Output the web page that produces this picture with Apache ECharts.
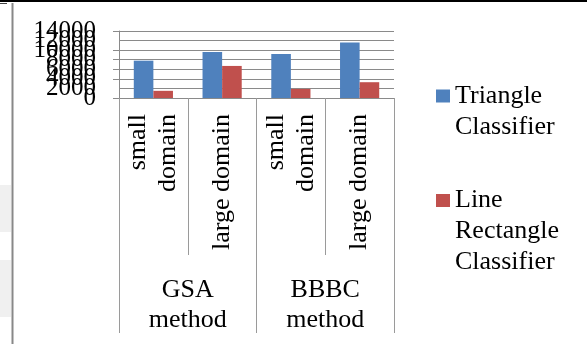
<!DOCTYPE html>
<html>
<head>
<meta charset="utf-8">
<script src="https://cdn.jsdelivr.net/npm/echarts@6/dist/echarts.min.js"></script>
<style>html,body{margin:0;padding:0;background:#fff;}#c{width:587px;height:344px;}</style>
</head>
<body>
<div id="c"></div>
<script>
const categories = ['small\ndomain', 'large domain', 'small\ndomain', 'large domain'];
const groups = ['GSA\nmethod', 'BBBC\nmethod'];
const seriesNames = ['Triangle Classifier', 'Line Rectangle Classifier'];
const triangleValues = [7800, 9600, 9200, 11600];
const lineRectValues = [1500, 6700, 1900, 3300];
const yTicks = { min: 0, max: 14000, interval: 2000 };

const FONT = 'Liberation Serif';
const chart = echarts.init(document.getElementById('c'), null, { renderer: 'canvas' });
function legendText(n) {
  const words = n.split(' ');
  const blank = '{s' + words.length + '| }';
  return blank + '\n' + words.map(w => '{a|' + w + '}').join('\n');
}
const richStyle = {
  a: { fontFamily: FONT, fontSize: 26, lineHeight: 31, color: '#000' },
  s2: { fontSize: 10, lineHeight: 31 },
  s3: { fontSize: 10, lineHeight: 62 }
};
const legendCommon = {
  orient: 'vertical', left: 436, padding: 0, itemWidth: 14, itemHeight: 13,
  icon: 'rect', selectedMode: false, formatter: legendText,
  textStyle: { fontFamily: FONT, fontSize: 26, color: '#000', rich: richStyle }
};
const yLabelBase = { margin: 23, fontFamily: FONT, fontSize: 25, color: '#000', hideOverlap: false };
const yEdge = [yTicks.min + yTicks.interval, yTicks.max - yTicks.interval];
chart.setOption({
  animation: false,
  backgroundColor: '#fff',
  textStyle: { fontFamily: FONT },
  grid: { left: 119, right: 193, top: 31, bottom: 246, containLabel: false },
  legend: [
    Object.assign({}, legendCommon, { top: 60, data: [seriesNames[0]] }),
    Object.assign({}, legendCommon, { top: 149, data: [seriesNames[1]] })
  ],
  xAxis: [
    {
      type: 'category', data: categories, position: 'bottom',
      axisLine: { show: true, lineStyle: { color: '#8a8a8a', width: 1 } },
      axisTick: { show: true, length: 157, lineStyle: { color: '#9a9a9a', width: 1 } },
      axisLabel: { interval: 0, rotate: 90, margin: 16, fontFamily: FONT, fontSize: 26, lineHeight: 30, color: '#000' }
    },
    {
      type: 'category', data: groups, position: 'bottom',
      axisLine: { show: false },
      axisTick: { show: true, length: 235, lineStyle: { color: '#9a9a9a', width: 1 } },
      axisLabel: { interval: 0, margin: 177, fontFamily: FONT, fontSize: 26, lineHeight: 30, color: '#000' }
    }
  ],
  yAxis: [
    {
      type: 'value', position: 'left', min: yTicks.min, max: yTicks.max, interval: yTicks.interval,
      axisLine: { show: true, lineStyle: { color: '#8a8a8a', width: 1 } },
      axisTick: { show: true, length: 6, lineStyle: { color: '#8a8a8a', width: 1 } },
      splitLine: { show: true, lineStyle: { color: '#8a8a8a', width: 1 } },
      axisLabel: Object.assign({}, yLabelBase, { showMinLabel: true, showMaxLabel: true, formatter: v => String(v) })
    },
    {
      type: 'value', position: 'left', min: yTicks.min, max: yTicks.max, interval: yTicks.interval,
      axisLine: { show: false }, axisTick: { show: false }, splitLine: { show: false },
      axisLabel: Object.assign({}, yLabelBase, {
        showMinLabel: false, showMaxLabel: false,
        formatter: v => (yEdge.indexOf(v) >= 0 ? String(v) : '')
      })
    }
  ],
  series: [
    { name: seriesNames[0], type: 'bar', data: triangleValues, itemStyle: { color: '#4F81BD' }, barGap: '0%', barCategoryGap: '43%' },
    { name: seriesNames[1], type: 'bar', data: lineRectValues, itemStyle: { color: '#C0504D' }, barGap: '0%', barCategoryGap: '43%' }
  ],
  graphic: [
    { type: 'rect', shape: { x: 0, y: 185, width: 11, height: 47 }, style: { fill: '#f0f0f0' }, silent: true },
    { type: 'rect', shape: { x: 0, y: 260, width: 11, height: 57 }, style: { fill: '#f0f0f0' }, silent: true },
    { type: 'line', shape: { x1: 0, y1: 1, x2: 587, y2: 1 }, style: { stroke: '#000', lineWidth: 2 }, silent: true },
    { type: 'line', shape: { x1: 12.5, y1: 3, x2: 12.5, y2: 344 }, style: { stroke: '#888', lineWidth: 2 }, silent: true },
    { type: 'line', shape: { x1: 0, y1: 3.5, x2: 7, y2: 3.5 }, style: { stroke: '#444', lineWidth: 1 }, silent: true }
  ]
});
</script>
</body>
</html>
